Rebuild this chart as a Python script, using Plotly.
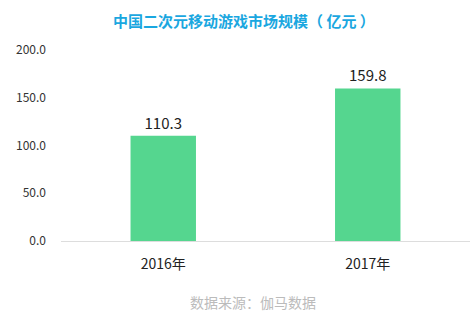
import plotly.graph_objects as go

categories = ["2016年", "2017年"]
values = [110.3, 159.8]
tick_vals = [0, 50, 100, 150, 200]
tick_text = ["0.0", "50.0", "100.0", "150.0", "200.0"]

fig = go.Figure(go.Bar(
    x=categories, y=values, width=0.32,
    marker=dict(color="#55d68f", line=dict(width=0)),
    text=[f"{v:.1f}" for v in values], textposition="outside",
    textfont=dict(size=15, color="#222", family="Noto Sans CJK SC"),
    cliponaxis=False,
))

fig.update_layout(
    width=472, height=314,
    margin=dict(l=61, r=2, t=50, b=73),
    paper_bgcolor="white", plot_bgcolor="white",
    showlegend=False,
    font=dict(family="Noto Sans CJK SC", color="#333"),
    xaxis=dict(showgrid=False, showline=True, linecolor="#dddddd", linewidth=1,
               tickfont=dict(size=14, color="#222"), ticks="", ticklabelstandoff=10),
    yaxis=dict(range=[0, 200], tickvals=tick_vals, ticktext=tick_text,
               showgrid=False, zeroline=False, showline=False,
               tickfont=dict(size=12, color="#333"), ticks="", ticklabelstandoff=14),
    annotations=[
        dict(text="<b>中国二次元移动游戏市场规模（ 亿元 ）</b>", x=0.5, y=1, xref="paper", yref="paper",
             yanchor="bottom", yshift=17, xshift=-22,
             showarrow=False, font=dict(size=15, color="#1aa7e0")),
        dict(text="数据来源：伽马数据", x=0.5, y=0, xref="paper", yref="paper",
             yanchor="top", yshift=-49, xshift=-13,
             showarrow=False, font=dict(size=14, color="#bbbbbb")),
    ],
)

fig.write_html("out.html")
